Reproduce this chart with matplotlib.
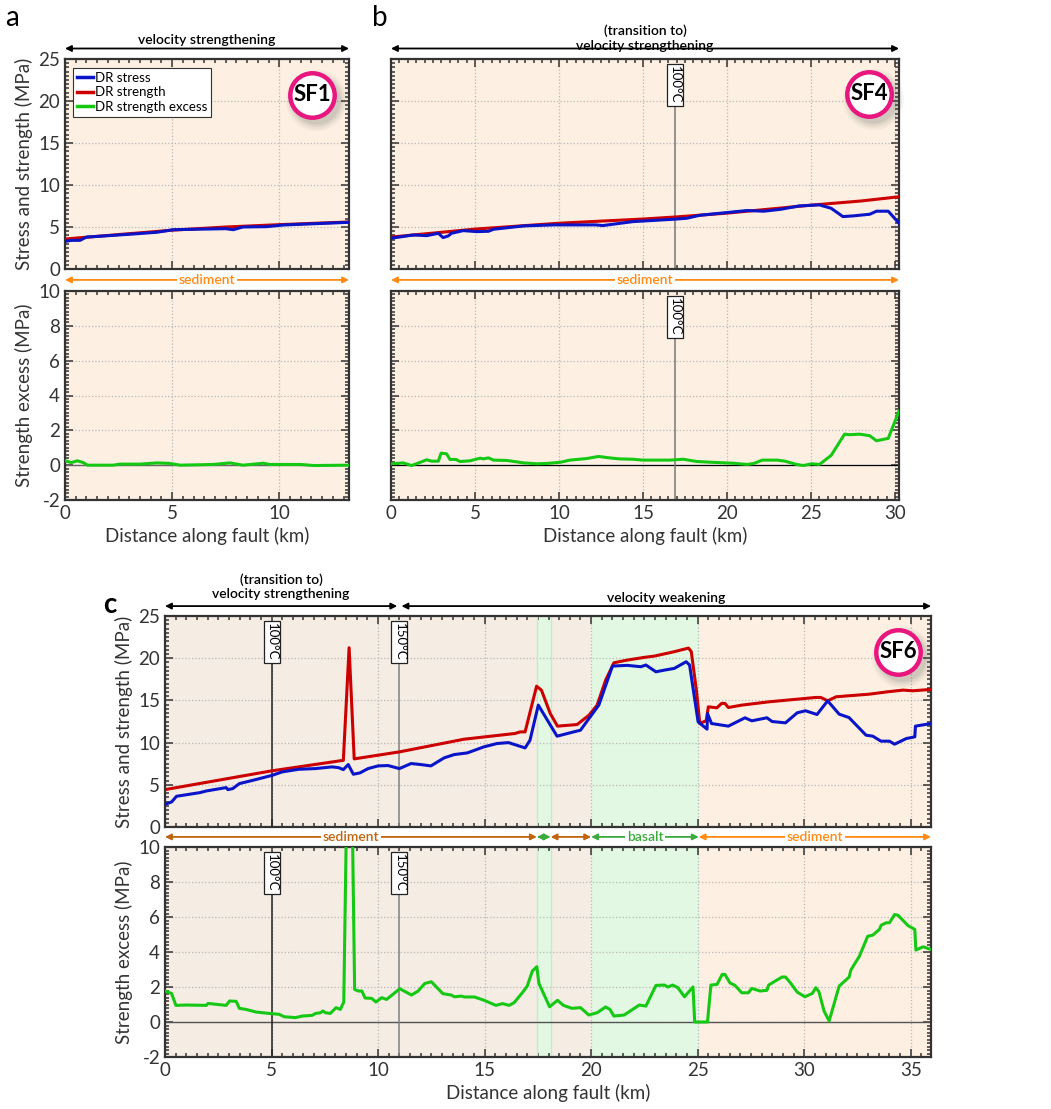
import matplotlib

matplotlib.use("Agg")
import matplotlib.pyplot as plt
from matplotlib.lines import Line2D
from matplotlib import transforms

plt.rcParams["font.family"] = ["Lato", "DejaVu Sans"]
plt.rcParams["axes.unicode_minus"] = False

# ---- panel a (SF1) ----
A_X_STRESS = [0, 0.3, 0.7, 1.0, 1.63, 3.2, 4.28, 5.05, 7.5, 7.85, 8.3, 9.4, 10.2, 13.25]
A_STRESS = [3.29, 3.41, 3.41, 3.8, 3.9, 4.17, 4.37, 4.68, 4.8, 4.68, 5.0, 5.04, 5.24, 5.56]
A_X_STRENGTH = [0, 2.5, 5, 7.5, 10, 13.25]
A_STRENGTH = [3.57, 4.1, 4.62, 5.0, 5.28, 5.6]
A_X_EXCESS = [0, 0.3, 0.58, 0.85, 1.05, 2.25, 2.56, 3.5, 4.28, 4.9, 5.37, 6.9, 7.7,
              8.3, 9.25, 9.56, 11.0, 11.6, 13.25]
A_EXCESS = [0.25, 0.15, 0.25, 0.15, 0.0, 0.0, 0.06, 0.06, 0.13, 0.1, 0.0, 0.04, 0.13,
            0.0, 0.11, 0.04, 0.04, -0.02, 0.0]

# ---- panel b (SF4) ----
B_X_STRESS = [0, 1.33, 2.12, 2.82, 3.1, 3.4, 3.6, 4.3, 5.1, 5.8, 6.1, 7.9, 9.7, 12.2,
              12.6, 14.4, 16.8, 17.6, 18.4, 20.0, 21.2, 22.2, 23.2, 24.3, 25.5, 26.2,
              26.9, 27.5, 28.5, 28.9, 29.6, 30.24]
B_STRESS = [3.66, 4.05, 3.97, 4.25, 3.74, 3.93, 4.25, 4.57, 4.45, 4.49, 4.73, 5.13, 5.25,
            5.25, 5.17, 5.64, 5.92, 6.04, 6.4, 6.72, 6.96, 6.88, 7.11, 7.51, 7.63, 7.23,
            6.24, 6.32, 6.52, 6.88, 6.88, 5.45]
B_X_STRENGTH = [0, 5, 10, 15, 17, 20, 25, 28, 30.24]
B_STRENGTH = [3.8, 4.75, 5.45, 5.95, 6.2, 6.65, 7.6, 8.1, 8.6]
B_X_EXCESS = [0, 0.73, 1.23, 1.92, 2.12, 2.42, 2.82, 2.98, 3.31, 3.51, 3.87, 4.1, 4.7,
              5.1, 5.3, 5.5, 5.8, 6.1, 6.9, 7.9, 8.7, 9.3, 10.1, 10.65, 11.65, 12.35,
              13.0, 13.6, 14.4, 15.0, 16.0, 16.6, 17.4, 18.2, 19.0, 20.4, 21.2, 21.6,
              22.1, 23.0, 23.45, 24.15, 24.55, 25.05, 25.5, 26.2, 27.0, 27.3, 27.9,
              28.5, 28.9, 29.6, 30.24]
B_EXCESS = [0.08, 0.13, -0.02, 0.23, 0.31, 0.23, 0.23, 0.69, 0.65, 0.33, 0.33, 0.21,
            0.25, 0.35, 0.4, 0.36, 0.42, 0.29, 0.27, 0.13, 0.08, 0.1, 0.17, 0.29, 0.38,
            0.5, 0.42, 0.36, 0.34, 0.29, 0.29, 0.29, 0.34, 0.21, 0.17, 0.11, 0.04, 0.1,
            0.29, 0.29, 0.23, 0.04, -0.02, 0.08, 0.04, 0.56, 1.78, 1.75, 1.78, 1.69,
            1.4, 1.54, 3.1]

# ---- panel c (SF6) ----
C_X_STRESS = [0, 0.31, 0.54, 1.63, 1.94, 2.87, 2.95, 3.18, 3.49, 4.26, 5.04, 5.5, 6.28,
              7.05, 7.83, 8.14, 8.37, 8.6, 8.84, 9.15, 9.53, 10.0, 10.47, 11.0, 11.55,
              12.0, 12.48, 13.1, 13.57, 14.19, 14.96, 15.58, 16.12, 16.9, 17.13, 17.52,
              18.4, 19.18, 19.5, 19.9, 20.36, 21.0, 21.7, 22.33, 22.57, 23.04, 23.44,
              23.9, 24.46, 24.62, 25.02, 25.44, 25.46, 25.65, 26.44, 27.22, 27.54,
              28.25, 28.49, 29.12, 29.67, 30.06, 30.6, 31.1, 31.64, 32.1, 32.9, 33.22,
              33.6, 34.0, 34.24, 34.79, 35.19, 35.22, 35.95]
C_STRESS = [2.69, 2.97, 3.64, 4.07, 4.27, 4.67, 4.43, 4.55, 5.14, 5.62, 6.13, 6.53, 6.84,
            6.92, 7.12, 7.04, 6.8, 7.4, 6.25, 6.41, 6.92, 7.24, 7.28, 6.92, 7.52, 7.4,
            7.24, 8.19, 8.58, 8.78, 9.49, 9.89, 10.0, 9.37, 10.28, 14.44, 10.76, 11.27,
            11.47, 12.86, 14.44, 19.07, 19.15, 18.99, 19.19, 18.39, 18.59, 18.79, 19.58,
            19.19, 12.46, 11.59, 13.45, 12.26, 11.95, 12.94, 12.58, 12.94, 12.5, 12.34,
            13.53, 13.77, 13.33, 14.95, 13.37, 12.97, 10.88, 10.76, 10.17, 10.17, 9.81,
            10.48, 10.68, 11.95, 12.26]
C_X_STRENGTH = [0, 5, 8.37, 8.64, 8.88, 11.0, 14.03, 16.43, 16.67, 16.9, 17.44, 17.67,
                18.08, 18.42, 19.34, 19.9, 20.28, 20.68, 21.07, 21.7, 22.5, 22.97, 23.9,
                24.57, 24.7, 24.94, 25.1, 25.4, 25.5, 25.9, 26.12, 26.28, 26.44, 27.07,
                28.33, 30.54, 30.78, 31.1, 31.5, 33.06, 33.85, 34.64, 35.1, 35.95]
C_STRENGTH = [4.43, 6.65, 7.9, 21.24, 8.07, 8.9, 10.4, 11.08, 11.27, 11.27, 16.69, 16.2,
              13.45, 11.95, 12.14, 13.25, 14.44, 17.4, 19.46, 19.78, 20.1, 20.25, 20.77,
              21.2, 20.77, 16.2, 12.26, 12.6, 14.24, 14.12, 14.64, 14.64, 14.16, 14.44,
              14.83, 15.35, 15.35, 14.95, 15.43, 15.74, 16.0, 16.22, 16.14, 16.3]
C_X_EXCESS = [0, 0.31, 0.51, 1.0, 1.94, 2.02, 2.87, 3.03, 3.34, 3.49, 3.8, 4.27, 4.89,
              5.36, 5.59, 6.13, 6.44, 6.91, 7.07, 7.3, 7.41, 7.53, 7.76, 8.03, 8.23, 8.39,
              8.54, 8.77, 8.9, 9.08, 9.24, 9.39, 9.7, 9.9, 10.17, 10.4, 11.02, 11.57,
              11.88, 12.19, 12.5, 13.04, 13.43, 13.59, 13.9, 14.05, 14.52, 14.98, 15.53,
              15.84, 16.15, 16.38, 16.77, 17.0, 17.24, 17.45, 17.55, 18.05, 18.42, 18.7,
              19.1, 19.5, 19.89, 20.28, 20.68, 20.88, 21.07, 21.55, 22.26, 22.57, 23.04,
              23.44, 23.6, 23.83, 24.07, 24.38, 24.78, 24.86, 25.46, 25.62, 25.91, 26.15,
              26.28, 26.51, 26.75, 27.07, 27.38, 27.54, 27.93, 28.25, 28.33, 28.64,
              28.96, 29.12, 29.35, 29.67, 30.03, 30.38, 30.54, 30.69, 30.93, 31.17,
              31.64, 32.11, 32.19, 32.59, 32.98, 33.21, 33.53, 33.61, 33.85, 34.0, 34.24,
              34.4, 34.87, 35.19, 35.24, 35.58, 35.95]
C_EXCESS = [1.77, 1.63, 0.95, 0.97, 0.95, 1.06, 0.95, 1.2, 1.18, 0.78, 0.72, 0.57, 0.49,
            0.44, 0.3, 0.25, 0.34, 0.38, 0.49, 0.53, 0.63, 0.53, 0.49, 0.82, 0.72, 1.14,
            13.5, 13.5, 1.86, 1.77, 1.77, 1.37, 1.35, 1.14, 1.39, 1.29, 1.9, 1.54, 1.77,
            2.2, 2.3, 1.62, 1.54, 1.44, 1.48, 1.43, 1.43, 1.24, 0.95, 1.05, 0.95, 1.1,
            1.67, 2.05, 2.91, 3.16, 2.2, 0.87, 1.24, 0.95, 0.78, 0.82, 0.4, 0.53, 0.86,
            0.72, 0.34, 0.4, 0.97, 0.91, 2.09, 2.11, 2.0, 2.11, 1.96, 1.44, 2.0, 0.0, 0.0,
            2.11, 2.15, 2.72, 2.72, 2.24, 2.09, 1.67, 1.67, 1.92, 1.77, 1.81, 2.11, 2.34,
            2.57, 2.57, 2.24, 1.71, 1.44, 1.63, 1.96, 1.73, 0.63, 0.06, 2.05, 2.57, 2.97,
            3.76, 4.9, 4.96, 5.29, 5.53, 5.67, 5.67, 6.14, 6.1, 5.51, 5.29, 4.11, 4.3,
            4.14]

# lithology / frictional zones in panel c (km)
C_SED_BROWN = [(0, 17.45), (18.1, 20.0)]
C_BASALT = [(17.45, 18.1), (20.0, 25.05)]

BLUE, RED, GREEN = "#0a14c8", "#cc0000", "#14c814"
BG_ORANGE, BG_BROWN, BG_GREEN = "#fdf0e2", "#f5ece3", "#e2f8e2"
SED_ORANGE, SED_BROWN, BAS_GREEN = "#ff8a14", "#c0640f", "#3caa3c"
PINK = "#e8177f"
AX_COL = "#333333"
FS_TICK, FS_LAB, FS_NOTE = 13.5, 13.5, 10


def style_axes(ax, xmax, ylim, ymaj, ymin_, xlabels=True):
    ax.set_xlim(0, xmax)
    ax.set_ylim(*ylim)
    ax.set_xticks(range(0, int(xmax) + 1, 5))
    ax.set_xticks([i * 0.5 for i in range(int(xmax * 2) + 1)], minor=True)
    ax.set_yticks([ylim[0] + i * ymaj for i in range(int((ylim[1] - ylim[0]) / ymaj) + 1)])
    n = int(round((ylim[1] - ylim[0]) / ymin_))
    ax.set_yticks([ylim[0] + i * ymin_ for i in range(n + 1)], minor=True)
    ax.tick_params(which="both", direction="in", top=True, right=True, colors=AX_COL,
                   labelsize=FS_TICK, width=1.1)
    ax.tick_params(which="major", length=6)
    ax.tick_params(which="minor", length=3)
    for s in ax.spines.values():
        s.set_linewidth(1.6)
        s.set_color(AX_COL)
    ax.grid(True, which="major", ls=":", color="#b8b8b8", lw=0.9)
    ax.set_axisbelow(True)
    if not xlabels:
        ax.tick_params(labelbottom=False)
    else:
        ax.set_xlabel("Distance along fault (km)", fontsize=FS_LAB, color=AX_COL)


def temp_line(ax, x, label, color):
    ax.axvline(x, ymax=0.88, color=color, lw=1.1, zorder=2)
    ax.text(x, 0.965, label, transform=ax.get_xaxis_transform(), rotation=-90,
            ha="center", va="top", fontsize=9.5, zorder=6,
            bbox=dict(boxstyle="square,pad=0.15", fc="white", ec="#222222", lw=0.9))


def span_arrow(ax, x0, x1, y, color, text=None, size=FS_NOTE, weight="normal", lw=1.3):
    tr = ax.get_xaxis_transform()
    ax.annotate("", xy=(x1, y), xytext=(x0, y), xycoords=tr, textcoords=tr,
                annotation_clip=False,
                arrowprops=dict(arrowstyle="<|-|>", color=color, lw=lw,
                                shrinkA=0, shrinkB=0, mutation_scale=9))
    if text:
        ax.text((x0 + x1) / 2, y, text, transform=tr, ha="center", va="center",
                fontsize=size, color=color, fontweight=weight, clip_on=False,
                bbox=dict(boxstyle="square,pad=0.12", fc="white", ec="none"))


def sf_badge(ax, x, y, label):
    fig = ax.figure
    for k, a in enumerate([0.05, 0.06, 0.08, 0.1]):
        off = transforms.offset_copy(ax.transAxes, fig=fig, x=4, y=-5, units="dots")
        ax.plot(x, y, "o", ms=44 - 3 * k, color="#555555", alpha=a, mew=0,
                transform=off, clip_on=False, zorder=7)
    ax.plot(x, y, "o", ms=32, mfc="white", mec=PINK, mew=3.2,
            transform=ax.transAxes, clip_on=False, zorder=8)
    ax.text(x, y, label, transform=ax.transAxes, ha="center", va="center",
            fontsize=16, fontweight="bold", color="black", zorder=9)


fig = plt.figure(figsize=(10.51, 11.09), dpi=100)
W, H = 1051, 1109


def add_ax(x0, x1, ytop, ybot):
    return fig.add_axes([x0 / W, 1 - ybot / H, (x1 - x0) / W, (ybot - ytop) / H])


# ---------------- panel a ----------------
ax_a1 = add_ax(65, 349, 59, 269)
ax_a2 = add_ax(65, 349, 291, 500)
for ax in (ax_a1, ax_a2):
    ax.set_facecolor(BG_ORANGE)
ax_a1.plot(A_X_STRENGTH, A_STRENGTH, color=RED, lw=2.2, zorder=3)
ax_a1.plot(A_X_STRESS, A_STRESS, color=BLUE, lw=2.2, zorder=4)
style_axes(ax_a1, 13.25, (0, 25), 5, 0.5, xlabels=False)
ax_a1.set_ylabel("Stress and strength (MPa)", fontsize=FS_LAB, color=AX_COL)
ax_a2.axhline(0, color="#666666", lw=1, zorder=2)
ax_a2.plot(A_X_EXCESS, A_EXCESS, color=GREEN, lw=2.2, zorder=4)
style_axes(ax_a2, 13.25, (-2, 10), 2, 0.2)
ax_a2.set_ylabel("Strength excess (MPa)", fontsize=FS_LAB, color=AX_COL)
handles = [Line2D([], [], color=BLUE, lw=2.5), Line2D([], [], color=RED, lw=2.5),
           Line2D([], [], color=GREEN, lw=2.5)]
leg = ax_a1.legend(handles, ["DR stress", "DR strength", "DR strength excess"],
                   loc="upper left", fontsize=9.5, handlelength=1.2, handletextpad=0.15,
                   labelspacing=0.2, borderpad=0.3, fancybox=False, framealpha=1,
                   edgecolor="#333333", bbox_to_anchor=(0.005, 0.99))
leg.get_frame().set_linewidth(0.8)
span_arrow(ax_a1, 0, 13.25, 1.05, "black", None)
ax_a1.text(0.5, 1.09, "velocity strengthening", transform=ax_a1.transAxes, ha="center",
           va="center", fontsize=FS_NOTE, fontweight="semibold")
span_arrow(ax_a1, 0, 13.25, -0.052, SED_ORANGE, "sediment", weight="semibold")
sf_badge(ax_a1, 0.87, 0.83, "SF1")
fig.text(5 / W, 1 - 18 / H, "a", fontsize=20, va="center", ha="left")

# ---------------- panel b ----------------
ax_b1 = add_ax(391, 899, 59, 269)
ax_b2 = add_ax(391, 899, 291, 500)
for ax in (ax_b1, ax_b2):
    ax.set_facecolor(BG_ORANGE)
ax_b1.plot(B_X_STRENGTH, B_STRENGTH, color=RED, lw=2.2, zorder=3)
ax_b1.plot(B_X_STRESS, B_STRESS, color=BLUE, lw=2.2, zorder=4)
style_axes(ax_b1, 30.24, (0, 25), 5, 0.5, xlabels=False)
ax_b1.tick_params(labelleft=False)
ax_b2.axhline(0, color="black", lw=0.9, zorder=2)
ax_b2.plot(B_X_EXCESS, B_EXCESS, color=GREEN, lw=2.2, zorder=4)
style_axes(ax_b2, 30.24, (-2, 10), 2, 0.2)
ax_b2.tick_params(labelleft=False)
for ax in (ax_b1, ax_b2):
    temp_line(ax, 16.9, "100°C", "#777777")
span_arrow(ax_b1, 0, 30.24, 1.05, "black", None)
ax_b1.text(0.5, 1.1, "(transition to)\nvelocity strengthening", transform=ax_b1.transAxes,
           ha="center", va="center", fontsize=FS_NOTE, fontweight="semibold",
           linespacing=1.25)
span_arrow(ax_b1, 0, 30.24, -0.052, SED_ORANGE, "sediment", weight="semibold")
sf_badge(ax_b1, 0.941, 0.834, "SF4")
fig.text(372 / W, 1 - 18 / H, "b", fontsize=20, va="center", ha="left")

# ---------------- panel c ----------------
ax_c1 = add_ax(165, 931, 616, 827)
ax_c2 = add_ax(165, 931, 847, 1057)
for ax in (ax_c1, ax_c2):
    ax.set_facecolor(BG_ORANGE)
    for x0, x1 in C_SED_BROWN:
        ax.axvspan(x0, x1, color=BG_BROWN, lw=0, zorder=0)
    for x0, x1 in C_BASALT:
        ax.axvspan(x0, x1, color=BG_GREEN, lw=0, zorder=0)
    for xb in (17.45, 18.1):
        ax.axvline(xb, color="#c6ecc6", lw=1, zorder=0.6)
ax_c1.plot(C_X_STRENGTH, C_STRENGTH, color=RED, lw=2.2, zorder=3)
ax_c1.plot(C_X_STRESS, C_STRESS, color=BLUE, lw=2.2, zorder=4)
style_axes(ax_c1, 35.95, (0, 25), 5, 0.5, xlabels=False)
ax_c1.set_ylabel("Stress and strength (MPa)", fontsize=FS_LAB, color=AX_COL)
ax_c2.axhline(0, color="#555555", lw=1, zorder=2)
ax_c2.plot(C_X_EXCESS, C_EXCESS, color=GREEN, lw=2.2, zorder=4)
style_axes(ax_c2, 35.95, (-2, 10), 2, 0.2)
ax_c2.set_ylabel("Strength excess (MPa)", fontsize=FS_LAB, color=AX_COL)
for ax in (ax_c1, ax_c2):
    temp_line(ax, 5, "100°C", "#222222")
    temp_line(ax, 11, "150°C", "#808080")
span_arrow(ax_c1, 0, 10.9, 1.047, "black", None)
span_arrow(ax_c1, 11.1, 35.95, 1.047, "black", None)
ax_c1.text(5.45, 1.14, "(transition to)\nvelocity strengthening",
           transform=ax_c1.get_xaxis_transform(), ha="center", va="center",
           fontsize=FS_NOTE, fontweight="semibold", linespacing=1.25)
ax_c1.text(23.5, 1.085, "velocity weakening", transform=ax_c1.get_xaxis_transform(),
           ha="center", va="center", fontsize=FS_NOTE, fontweight="semibold")
span_arrow(ax_c1, 0, 17.45, -0.047, SED_BROWN, "sediment", weight="semibold")
span_arrow(ax_c1, 17.45, 18.1, -0.047, BAS_GREEN)
span_arrow(ax_c1, 18.1, 20.0, -0.047, SED_BROWN)
span_arrow(ax_c1, 20.0, 25.05, -0.047, BAS_GREEN, "basalt", weight="semibold")
span_arrow(ax_c1, 25.05, 35.95, -0.047, SED_ORANGE, "sediment", weight="semibold")
sf_badge(ax_c1, 0.957, 0.83, "SF6")
fig.text(103 / W, 1 - 605 / H, "c", fontsize=20, va="center", ha="left",
         fontweight="bold")

fig.savefig("out.png", dpi=100)
